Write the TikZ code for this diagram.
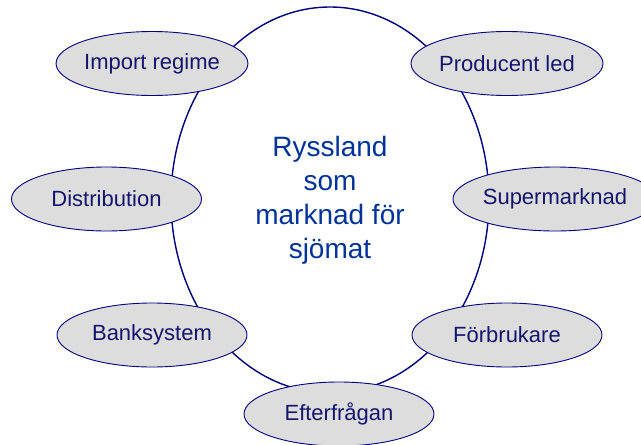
\documentclass[tikz,border=0pt]{standalone}
\usepackage{fontspec}
\setmainfont{Liberation Sans}
\usetikzlibrary{shapes.geometric}
\definecolor{outline}{RGB}{0,0,128}
\definecolor{nodetext}{RGB}{20,20,110}
\definecolor{centertext}{RGB}{0,51,153}
\definecolor{nodefill}{RGB}{221,221,221}
\tikzset{
  topic/.style={ellipse, draw=outline, line width=0.9pt, fill=nodefill,
    minimum width=190pt, minimum height=64pt, inner sep=0pt,
    text=nodetext, font=\fontsize{22}{26}\selectfont},
  market/.style={ellipse, draw=outline, line width=1.4pt,
    minimum width=318pt, minimum height=386pt, inner sep=0pt,
    text=centertext, align=center, font=\fontsize{28}{34}\selectfont}
}
\begin{document}
\begin{tikzpicture}[x=1pt,y=-1pt]
\useasboundingbox (0,0) rectangle (641,445);
\node[market] (m) at (330,200) {Ryssland\\som\\marknad för\\sjömat};
\node[topic] (imp) at (152,63.5) {Import regime};
\node[topic] (prod) at (507,63.5) {Producent led};
\node[topic] (dist) at (106.5,199) {Distribution};
\node[topic] (sup) at (555,199) {Supermarknad};
\node[topic] (bank) at (152,335) {Banksystem};
\node[topic] (forb) at (507,335) {Förbrukare};
\node[topic] (eft) at (339,414) {Efterfrågan};
\end{tikzpicture}
\end{document}
